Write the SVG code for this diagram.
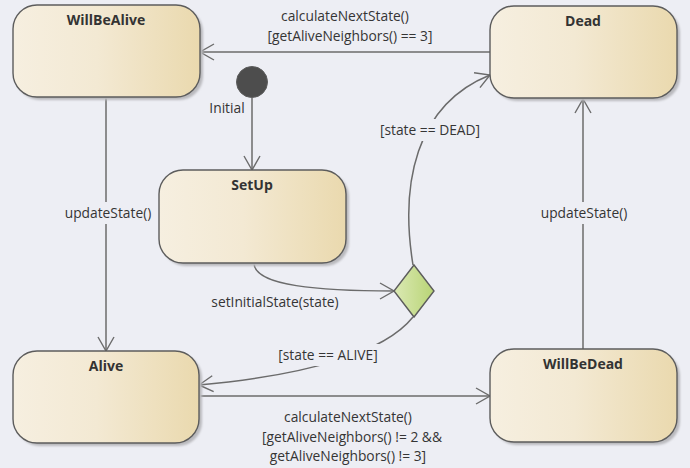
<svg xmlns="http://www.w3.org/2000/svg" width="690" height="468" viewBox="0 0 690 468">
<defs>
  <linearGradient id="nodeGrad" x1="0" y1="0" x2="1" y2="0">
    <stop offset="0" stop-color="#f6efe0"/>
    <stop offset="0.45" stop-color="#f3e9d3"/>
    <stop offset="1" stop-color="#ead9ae"/>
  </linearGradient>
  <linearGradient id="decGrad" x1="0" y1="0" x2="1" y2="0">
    <stop offset="0" stop-color="#dbe9b4"/>
    <stop offset="1" stop-color="#b8d475"/>
  </linearGradient>
  <filter id="shadow" x="-10%" y="-10%" width="130%" height="130%">
    <feGaussianBlur stdDeviation="1.2"/>
  </filter>
  <marker id="arrow" viewBox="0 0 16 18" refX="15" refY="9" markerWidth="16" markerHeight="18" markerUnits="userSpaceOnUse" orient="auto">
    <path d="M1,1 L15,9 L1,17" fill="none" stroke="#6b6b6b" stroke-width="1.4"/>
  </marker>
</defs>
<style>
  .node { fill: url(#nodeGrad); stroke: #5c5c5c; stroke-width: 1.4; }
  .shadow { fill: #b9b9bd; filter: url(#shadow); }
  .title { font-family: "Open Sans", "Noto Sans", "Liberation Sans", sans-serif; font-size: 14px; font-weight: bold; fill: #333333; text-anchor: middle; }
  .edge { fill: none; stroke: #6b6b6b; stroke-width: 1.5; marker-end: url(#arrow); }
  .lbl { font-family: "Open Sans", "Noto Sans", "Liberation Sans", sans-serif; font-size: 13.8px; fill: #353535; text-anchor: middle; }
  .lblbg { fill: #edeef4; }
</style>
<rect x="0" y="0" width="690" height="468" fill="#edeef4"/>

<g id="connectors">
  <!-- Dead -> WillBeAlive -->
  <path class="edge" d="M490,52 L200,52"/>
  <!-- Initial -> SetUp -->
  <path class="edge" d="M252,98 L252,170"/>
  <!-- WillBeAlive -> Alive -->
  <path class="edge" d="M106,97 L106,351"/>
  <!-- SetUp -> decision -->
  <path class="edge" d="M254,263 C254,286 320,291 394,291"/>
  <!-- decision -> Dead -->
  <path class="edge" d="M413,265 C400,185 415,105 490,75"/>
  <!-- decision -> Alive -->
  <path class="edge" d="M413,317 C385,352 310,375 199,385"/>
  <!-- Alive -> WillBeDead -->
  <path class="edge" d="M199,396 L490,396"/>
  <!-- WillBeDead -> Dead -->
  <path class="edge" d="M583,349 L583,99"/>

  <!-- labels -->
  <rect class="lblbg" x="62" y="202" width="92" height="22"/>
  <text class="lbl" x="108" y="218">updateState()</text>
  <rect class="lblbg" x="538" y="202" width="92" height="22"/>
  <text class="lbl" x="584" y="218">updateState()</text>
  <rect class="lblbg" x="375" y="119" width="110" height="22"/>
  <text class="lbl" x="430" y="135">[state == DEAD]</text>
  <rect class="lblbg" x="273" y="344" width="110" height="22"/>
  <text class="lbl" x="328" y="360">[state == ALIVE]</text>
  <text class="lbl" x="275" y="307">setInitialState(state)</text>
  <text class="lbl" x="227" y="113">Initial</text>
  <text class="lbl" x="345" y="21">calculateNextState()</text>
  <text class="lbl" x="350" y="41">[getAliveNeighbors() == 3]</text>
  <text class="lbl" x="348" y="422">calculateNextState()</text>
  <text class="lbl" x="352" y="442">[getAliveNeighbors() != 2 &amp;&amp;</text>
  <text class="lbl" x="348" y="461">getAliveNeighbors() != 3]</text>
</g>

<g id="WillBeAlive">
  <rect class="shadow" x="16" y="8" width="187" height="92" rx="24"/>
  <rect class="node" x="13" y="5" width="187" height="92" rx="24"/>
  <text class="title" x="106" y="25">WillBeAlive</text>
</g>
<g id="Dead">
  <rect class="shadow" x="493" y="9" width="187" height="92" rx="24"/>
  <rect class="node" x="490" y="6" width="187" height="92" rx="24"/>
  <text class="title" x="583" y="26">Dead</text>
</g>
<g id="Initial">
  <circle cx="252" cy="82" r="15.5" fill="#4d4d4d" stroke="#5c5c5c" stroke-width="1"/>
</g>
<g id="SetUp">
  <rect class="shadow" x="162" y="173" width="187" height="93" rx="24"/>
  <rect class="node" x="159" y="170" width="187" height="93" rx="24"/>
  <text class="title" x="252" y="190">SetUp</text>
</g>
<g id="Decision">
  <polygon points="414,265 434,291 414,317 394,291" fill="url(#decGrad)" stroke="#5c5c5c" stroke-width="1.4"/>
</g>
<g id="Alive">
  <rect class="shadow" x="16" y="354" width="186" height="92" rx="24"/>
  <rect class="node" x="13" y="351" width="186" height="92" rx="24"/>
  <text class="title" x="106" y="371">Alive</text>
</g>
<g id="WillBeDead">
  <rect class="shadow" x="493" y="352" width="187" height="93" rx="24"/>
  <rect class="node" x="490" y="349" width="187" height="93" rx="24"/>
  <text class="title" x="583" y="369">WillBeDead</text>
</g>
</svg>
